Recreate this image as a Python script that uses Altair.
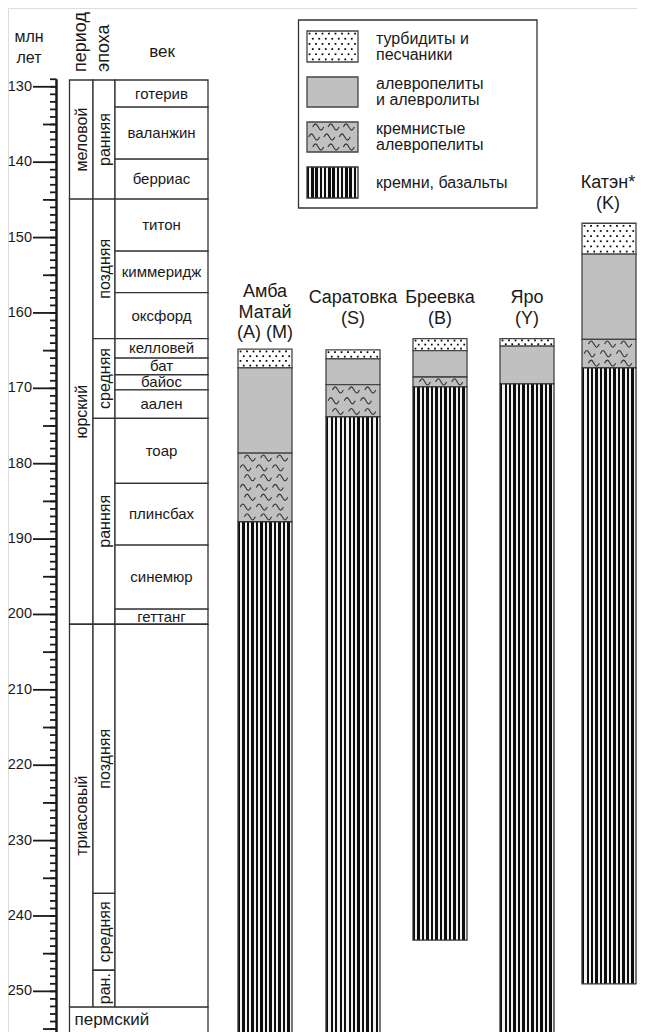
import altair as alt
import pandas as pd

# ---------------- data ----------------
scale_major = [130, 140, 150, 160, 170, 180, 190, 200, 210, 220, 230, 240, 250]
scale_half = [135, 145, 155, 165, 175, 185, 195, 205, 215, 225, 235, 245, 255]
scale_minor = list(range(129, 256))

period_names = ["меловой", "юрский", "триасовый"]
period_top = [129.1, 144.9, 201.3]
period_base = [144.9, 201.3, 252.1]

epoch_names = ["ранняя", "поздняя", "средняя", "ранняя", "поздняя", "средняя", "ран."]
epoch_top = [129.1, 144.9, 163.4, 174.0, 201.3, 237.0, 247.2]
epoch_base = [144.9, 163.4, 174.0, 201.3, 237.0, 247.2, 252.1]

stage_names = ["готерив", "валанжин", "берриас", "титон", "киммеридж", "оксфорд",
               "келловей", "бат", "байос", "аален", "тоар", "плинсбах", "синемюр", "геттанг"]
stage_top = [129.1, 132.7, 139.6, 144.9, 151.8, 157.3, 163.4, 166.0, 168.2, 170.2,
             174.0, 182.6, 190.8, 199.3]
stage_base = [132.7, 139.6, 144.9, 151.8, 157.3, 163.4, 166.0, 168.2, 170.2, 174.0,
              182.6, 190.8, 199.3, 201.3]
triassic_gap = [201.3, 252.1]
permian_name = "пермский"
permian_top = 252.1
figure_base = 256.0

section_names = ["Амба\nМатай\n(A) (M)", "Саратовка\n(S)", "Бреевка\n(B)", "Яро\n(Y)", "Катэн*\n(K)"]
section_bounds = [
    [164.8, 167.3, 178.6, 187.7, 256.0],
    [164.9, 166.1, 169.5, 173.8, 256.0],
    [163.4, 165.0, 168.5, 169.8, 243.2],
    [163.4, 164.4, 169.4, 256.0],
    [148.1, 152.2, 163.5, 167.3, 249.0],
]
section_litho = [
    ["turb", "silt", "sil", "chert"],
    ["turb", "silt", "sil", "chert"],
    ["turb", "silt", "sil", "chert"],
    ["turb", "silt", "chert"],
    ["turb", "silt", "sil", "chert"],
]
legend_keys = ["turb", "silt", "sil", "chert"]
legend_labels = ["турбидиты и\nпесчаники", "алевропелиты\nи алевролиты",
                 "кремнистые\nалевропелиты", "кремни, базальты"]
header_labels = ["млн\nлет", "период", "эпоха", "век"]

# ---------------- layout ----------------
W, H = 629, 1024
PX = 7.538                      # pixels per Ma
A0 = 130 - (86.8 - 8) / PX
A1 = A0 + H / PX
FONT = "Liberation Sans"
INK = "#1a1a1a"
LINE = "#333333"
GRAY = "#c0c0c0"


def age(y_screen):
    return A0 + (y_screen - 8) / PX


xs = alt.Scale(domain=[8, 8 + W], nice=False, zero=False)
ys = alt.Scale(domain=[A0, A1], nice=False, zero=False, reverse=True)


def X(f):
    return alt.X(f, type="quantitative", scale=xs, axis=None)


def Y(f):
    return alt.Y(f, type="quantitative", scale=ys, axis=None)


def rects(df, **kw):
    return alt.Chart(df).mark_rect(**kw).encode(
        x=X("x0"), x2=alt.X2("x1"), y=Y("a0"), y2=alt.Y2("a1"))


def texts(df, **kw):
    base = dict(font=FONT, color=INK)
    base.update(kw)
    return alt.Chart(df).mark_text(**base).encode(x=X("x"), y=Y("a"), text="t:N")


def stripe_fill(n, frac=0.55):
    stops = []
    for i in range(n):
        a, b, c = i / n, (i + frac) / n, (i + 1) / n
        stops += [alt.GradientStop(color="#0d0d0d", offset=a),
                  alt.GradientStop(color="#0d0d0d", offset=b),
                  alt.GradientStop(color="#f2f2f2", offset=b),
                  alt.GradientStop(color="#f2f2f2", offset=c)]
    return alt.LinearGradient(gradient="linear", stops=stops, x1=0, x2=1, y1=0, y2=0)


def dot_points(x0, x1, a0, a1, dx=6.5, dy=4.8):
    pts = []
    h = (a1 - a0) * PX
    n = max(1, int(round(h / dy)))
    step = h / n
    for r in range(n):
        yy = a0 + (r + 0.5) * step / PX
        xx = x0 + 2.5 + (dx / 2 if r % 2 else 0)
        while xx < x1 - 1.5:
            pts.append((xx, yy))
            xx += dx
    return pts


def wave_points(x0, x1, a0, a1, dy=10.5):
    pts = []
    h = (a1 - a0) * PX
    n = max(1, int(round(h / dy)))
    step = h / n
    w = x1 - x0
    for r in range(n):
        yy = a0 + (r + 0.5) * step / PX
        offs = [0.22, 0.52, 0.82] if r % 2 == 0 else [0.14, 0.44, 0.74]
        for o in offs:
            pts.append((x0 + o * w, yy))
    return pts


WAVE = "M -1 0 C -0.6 -0.75 -0.4 -0.75 0 0 C 0.4 0.75 0.6 0.75 1 0"

# ---------------- stratigraphic table ----------------
PER_X = (69.5, 93)
EPO_X = (93, 115)
STG_X = (115, 208)

cells = []
for t, b in zip(period_top, period_base):
    cells.append((PER_X[0], PER_X[1], t, b))
for t, b in zip(epoch_top, epoch_base):
    cells.append((EPO_X[0], EPO_X[1], t, b))
for t, b in zip(stage_top, stage_base):
    cells.append((STG_X[0], STG_X[1], t, b))
cells.append((STG_X[0], STG_X[1], triassic_gap[0], triassic_gap[1]))
cells.append((PER_X[0], STG_X[1], permian_top, figure_base))
cell_df = pd.DataFrame(cells, columns=["x0", "x1", "a0", "a1"])
table = rects(cell_df, fill="white", stroke=LINE, strokeWidth=1.3)

per_df = pd.DataFrame({"x": (PER_X[0] + PER_X[1]) / 2 + 0.5,
                       "a": [(t + b) / 2 for t, b in zip(period_top, period_base)],
                       "t": period_names})
epo_df = pd.DataFrame({"x": (EPO_X[0] + EPO_X[1]) / 2 + 0.5,
                       "a": [(t + b) / 2 for t, b in zip(epoch_top, epoch_base)],
                       "t": epoch_names})
stg_df = pd.DataFrame({"x": (STG_X[0] + STG_X[1]) / 2,
                       "a": [(t + b) / 2 for t, b in zip(stage_top, stage_base)],
                       "t": stage_names})
perm_df = pd.DataFrame({"x": [PER_X[0] + 5], "a": [age(1020)], "t": [permian_name]})

table_text = [
    texts(per_df, angle=270, fontSize=16, align="center", baseline="middle"),
    texts(epo_df, angle=270, fontSize=16, align="center", baseline="middle"),
    texts(stg_df, fontSize=15, align="center", baseline="middle"),
    texts(perm_df, fontSize=17, align="left", baseline="middle"),
]

# ---------------- time scale ----------------
AX_X = 56.5
axis_line = alt.Chart(pd.DataFrame({"x": [AX_X], "a0": [129.0], "a1": [figure_base]})).mark_rule(
    color=INK, strokeWidth=2.5).encode(x=X("x"), y=Y("a0"), y2=alt.Y2("a1"))


def tick_layer(vals, x0, x1):
    df = pd.DataFrame({"a": vals, "x0": x0, "x1": x1})
    return alt.Chart(df).mark_rule(color=INK, strokeWidth=1.8).encode(
        x=X("x0"), x2=alt.X2("x1"), y=Y("a"))


ticks = [tick_layer(scale_minor, 50, AX_X), tick_layer(scale_half, 43, AX_X),
         tick_layer(scale_major, 33, AX_X)]
tick_lab = texts(pd.DataFrame({"x": 32, "a": scale_major, "t": [str(v) for v in scale_major]}),
                 fontSize=14.5, align="right", baseline="middle")

# ---------------- headers ----------------
hdr = [
    texts(pd.DataFrame({"x": [29], "a": [age(37)], "t": [header_labels[0]]}),
          fontSize=16, align="center", baseline="middle", lineBreak="\n", lineHeight=21),
    texts(pd.DataFrame({"x": [81], "a": [age(72)], "t": [header_labels[1]]}),
          fontSize=18, angle=270, align="left", baseline="middle"),
    texts(pd.DataFrame({"x": [104], "a": [age(72)], "t": [header_labels[2]]}),
          fontSize=18, angle=270, align="left", baseline="middle"),
    texts(pd.DataFrame({"x": [162], "a": [age(52)], "t": [header_labels[3]]}),
          fontSize=17, align="center", baseline="middle"),
]

# ---------------- legend ----------------
LEG_BOX = (298.5, 537, 20, 208)
SW_X = (307, 358)
SW_Y = [(31, 62), (77, 107), (122, 152), (167, 198)]
legend_box = rects(pd.DataFrame({"x0": [LEG_BOX[0]], "x1": [LEG_BOX[1]],
                                 "a0": [age(LEG_BOX[2])], "a1": [age(LEG_BOX[3])]}),
                   fill="white", stroke=LINE, strokeWidth=1.3)

# ---------------- sections + legend swatches (same drawing) ----------------
SEC_X0 = [238, 326, 413, 500, 582]
SEC_W = 54

blocks = {k: [] for k in legend_keys}
for x0, bounds, lith in zip(SEC_X0, section_bounds, section_litho):
    for i, k in enumerate(lith):
        blocks[k].append((x0, x0 + SEC_W, bounds[i], bounds[i + 1]))
for k, (y0, y1) in zip(legend_keys, SW_Y):
    blocks[k].append((SW_X[0], SW_X[1], age(y0), age(y1)))

blk = {k: pd.DataFrame(v, columns=["x0", "x1", "a0", "a1"]) for k, v in blocks.items()}

dots, waves = [], []
for r in blocks["turb"]:
    dots += dot_points(*r)
for r in blocks["sil"]:
    waves += wave_points(*r)
dots_df = pd.DataFrame(dots, columns=["x", "a"])
waves_df = pd.DataFrame(waves, columns=["x", "a"])

litho_layers = [
    rects(blk["turb"], fill="white", stroke="#444444", strokeWidth=1.3),
    rects(blk["silt"], fill=GRAY, stroke="#444444", strokeWidth=1.3),
    rects(blk["sil"], fill=GRAY, stroke="#444444", strokeWidth=1.3),
    rects(blk["chert"], fill=stripe_fill(12), stroke="#333333", strokeWidth=1.3),
    alt.Chart(dots_df).mark_square(size=3, color="#000000", opacity=1).encode(x=X("x"), y=Y("a")),
    alt.Chart(waves_df).mark_point(shape=WAVE, size=121, filled=False, stroke="#333333",
                                   strokeWidth=1.1, opacity=1).encode(x=X("x"), y=Y("a")),
]

# first-line positions of each legend label (two-line labels start above centre)
leg_first = []
for (a, b), lab in zip(SW_Y, legend_labels):
    c = (a + b) / 2
    leg_first.append(age(c - 8) if "\n" in lab else age(c))
leg_text = texts(pd.DataFrame({"x": 376, "a": leg_first, "t": legend_labels}),
                 fontSize=16, align="left", baseline="middle", lineBreak="\n", lineHeight=16)

sec_hdr_x = [265, 353, 440, 527, 608]
sec_hdr_y = [292, 298, 298, 298, 183]
sec_text = texts(pd.DataFrame({"x": sec_hdr_x,
                               "a": [age(v) for v in sec_hdr_y], "t": section_names}),
                 fontSize=18, align="center", baseline="middle", lineBreak="\n", lineHeight=20.5)

chart = alt.layer(
    table, *table_text, axis_line, *ticks, tick_lab, *hdr,
    legend_box, *litho_layers, leg_text, sec_text,
).properties(width=W, height=H, padding=0, autosize="none").configure_view(
    stroke=None).configure(background="white")

chart.save("out.html", embed_options={"renderer": "svg", "actions": False})
